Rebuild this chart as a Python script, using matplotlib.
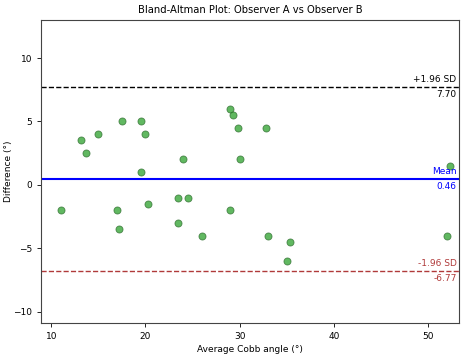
import matplotlib
matplotlib.use("Agg")
import matplotlib.pyplot as plt
import numpy as np

avg_cobb = [11.0, 13.2, 13.7, 15.0, 17.5, 19.5, 20.0, 19.5, 17.0, 17.2, 20.3,
            24.0, 23.5, 24.5, 23.5, 26.0, 29.0, 29.0, 29.3, 29.8, 30.0, 32.8,
            33.0, 35.3, 35.0, 52.3, 52.0]
diff = [-2.0, 3.5, 2.5, 4.0, 5.0, 5.0, 4.0, 1.0, -2.0, -3.5, -1.5,
        2.0, -1.0, -1.0, -3.0, -4.0, -2.0, 6.0, 5.5, 4.5, 2.0, 4.5,
        -4.0, -4.5, -6.0, 1.5, -4.0]
mean_diff = 0.46
upper_loa = 7.70
lower_loa = -6.77

fig, ax = plt.subplots(figsize=(4.74, 3.57), dpi=100)
fig.subplots_adjust(left=0.087, right=0.969, top=0.944, bottom=0.095)

ax.scatter(avg_cobb, diff, s=26, color="#2ca02c", alpha=0.75,
           edgecolors="#2e6b2e", linewidths=0.6, zorder=3)

ax.axhline(mean_diff, color="blue", lw=1.5)
ax.axhline(upper_loa, color="black", lw=1.0, ls="--")
ax.axhline(lower_loa, color="#b03a3a", lw=1.0, ls="--")

xt = 53.0
fs = 6.5
ax.text(xt, upper_loa + 0.25, "+1.96 SD", ha="right", va="bottom", fontsize=fs, color="black")
ax.text(xt, upper_loa - 0.25, f"{upper_loa:.2f}", ha="right", va="top", fontsize=fs, color="black")
ax.text(xt, mean_diff + 0.25, "Mean", ha="right", va="bottom", fontsize=fs, color="blue")
ax.text(xt, mean_diff - 0.25, f"{mean_diff:.2f}", ha="right", va="top", fontsize=fs, color="blue")
ax.text(xt, lower_loa + 0.25, "-1.96 SD", ha="right", va="bottom", fontsize=fs, color="#b03a3a")
ax.text(xt, lower_loa - 0.25, f"{lower_loa:.2f}", ha="right", va="top", fontsize=fs, color="#b03a3a")

ax.set_xlim(8.94, 53.3)
ax.set_ylim(-10.9, 13.0)
ax.set_xticks([10, 20, 30, 40, 50])
ax.set_yticks([-10, -5, 0, 5, 10])
ax.tick_params(labelsize=6.5, length=3, width=0.6)
for s in ax.spines.values():
    s.set_linewidth(0.8)
    s.set_color("#444444")

ax.set_title("Bland-Altman Plot: Observer A vs Observer B", fontsize=7.2, pad=5)
ax.set_xlabel("Average Cobb angle (°)", fontsize=6.5, labelpad=3)
ax.set_ylabel("Difference (°)", fontsize=6.5)
ax.yaxis.set_label_coords(-0.068, 0.5)

fig.savefig("out.png", dpi=100)
